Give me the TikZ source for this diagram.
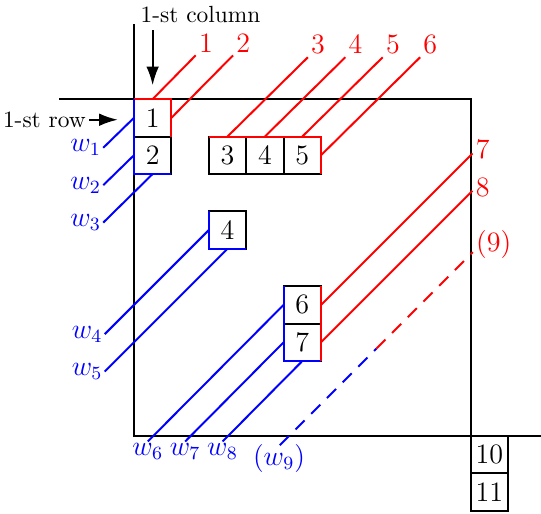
\documentclass[tikz,border=0pt]{standalone}
\usetikzlibrary{arrows.meta}
\begin{document}
\begin{tikzpicture}[x=16pt,y=16pt,line width=0.85pt,
  cell/.style={draw=black,minimum size=16pt,inner sep=0pt,outer sep=0pt,font=\large},
  rlab/.style={red,font=\large,inner sep=1pt},
  blab/.style={blue,font=\large,inner sep=0.5pt},
  pointer/.style={-{Latex[length=8pt,width=5.4pt]}}]
\useasboundingbox (-3.58,-11.07) rectangle (10.88,2.65);
% frame
\coordinate (ftop) at (0,2);
\coordinate (fleft) at (-2,0);
\coordinate (tl) at (0,0);
\coordinate (tr) at (9,0);
\coordinate (bl) at (0,-9);
\coordinate (br) at (9,-9);
\coordinate (fright) at (10.9,-9);
\draw (ftop) -- (bl) -- (fright);
\draw (fleft) -- (tr) -- (br);
% cells
\node[cell] (c1) at (0.5,-0.5) {1};
\node[cell] (c2) at (0.5,-1.5) {2};
\node[cell] (c3) at (2.5,-1.5) {3};
\node[cell] (c4) at (3.5,-1.5) {4};
\node[cell] (c5) at (4.5,-1.5) {5};
\node[cell] (d4) at (2.5,-3.5) {4};
\node[cell] (c6) at (4.5,-5.5) {6};
\node[cell] (c7) at (4.5,-6.5) {7};
\node[cell] (c10) at (9.5,-9.5) {10};
\node[cell] (c11) at (9.5,-10.5) {11};
% coloured edges
\draw[red] (c1.north west) -- (c1.north east) -- (c1.south east);
\draw[blue] (c1.north west) -- (c2.south west) -- (c2.south east);
\draw[red] (c3.north west) -- (c5.north east) -- (c5.south east);
\draw[blue] (d4.north west) -- (d4.south west) -- (d4.south east);
\draw[blue] (c6.north west) -- (c7.south west) -- (c7.south east);
\draw[red] (c6.north east) -- (c7.south east);
% headings
\node[anchor=base,inner sep=1pt] (colname) at (1.78,2.06) {1-st column};
\coordinate (ca) at (0.5,1.84);
\coordinate (cb) at (0.5,0.37);
\draw[pointer] (ca) -- (cb);
\node[anchor=east,inner sep=1pt] (rowname) at (-1.2,-0.55) {1-st row};
\coordinate (rb) at (-0.43,-0.55);
\draw[pointer] (rowname.east) -- (rb);
% red labels
\node[rlab,anchor=south west] (r1) at (1.65,1.17) {1};
\node[rlab,anchor=south west] (r2) at (2.65,1.17) {2};
\node[rlab,anchor=south west] (r3) at (4.65,1.12) {3};
\node[rlab,anchor=south west] (r4) at (5.65,1.12) {4};
\node[rlab,anchor=south west] (r5) at (6.65,1.12) {5};
\node[rlab,anchor=south west] (r6) at (7.65,1.12) {6};
\node[rlab,anchor=200] (r7) at (9.05,-1.45) {7};
\node[rlab,anchor=200] (r8) at (9.05,-2.45) {8};
\node[rlab,anchor=200] (r9) at (9.06,-4.09) {(9)};
\draw[red] (c1.north) -- (r1.south west);
\draw[red] (c1.east) -- (r2.south west);
\draw[red] (c3.north) -- (r3.south west);
\draw[red] (c4.north) -- (r4.south west);
\draw[red] (c5.north) -- (r5.south west);
\draw[red] (c5.east) -- (r6.south west);
\draw[red] (c6.east) -- (r7.200);
\draw[red] (c7.east) -- (r8.200);
% blue labels
\node[blab,anchor=east] (w1) at (-0.82,-1.3) {$w_1$};
\node[blab,anchor=east] (w2) at (-0.82,-2.3) {$w_2$};
\node[blab,anchor=east] (w3) at (-0.82,-3.3) {$w_3$};
\node[blab,anchor=east] (w4) at (-0.78,-6.28) {$w_4$};
\node[blab,anchor=east] (w5) at (-0.78,-7.28) {$w_5$};
\node[blab,anchor=north] (w6) at (0.37,-9.15) {$w_6$};
\node[blab,anchor=north] (w7) at (1.37,-9.15) {$w_7$};
\node[blab,anchor=north] (w8) at (2.37,-9.15) {$w_8$};
\node[blab,anchor=north] (w9) at (3.88,-9.17) {$(w_9)$};
\draw[blue] (c1.west) -- (w1.east);
\draw[blue] (c2.west) -- (w2.east);
\draw[blue] (c2.south) -- (w3.east);
\draw[blue] (d4.west) -- (w4.east);
\draw[blue] (d4.south) -- (w5.east);
\draw[blue] (c6.west) -- (w6.north);
\draw[blue] (c7.west) -- (w7.north);
\draw[blue] (c7.south) -- (w8.north);
% dashed diagonal
\coordinate (s9) at (3.9,-9.25);
\coordinate (m9) at (6.48,-6.67);
\draw[blue,dash pattern=on 5.5pt off 4pt] (s9) -- (m9);
\draw[red,dash pattern=on 5.5pt off 4pt] (m9) -- (r9.200);
\end{tikzpicture}
\end{document}
